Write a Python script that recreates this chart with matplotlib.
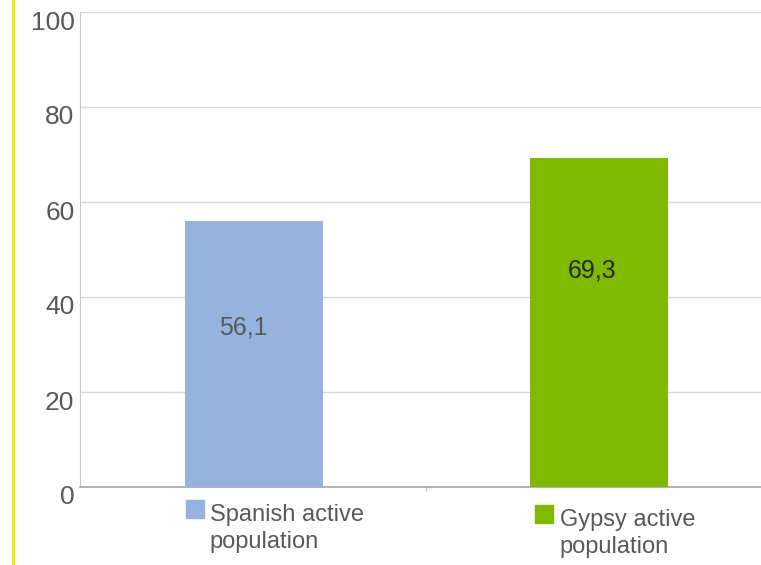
import matplotlib
matplotlib.use("Agg")
import matplotlib.pyplot as plt
from matplotlib.patches import Rectangle
from matplotlib.lines import Line2D
import matplotlib.transforms as mtransforms

categories = ["Spanish active\npopulation", "Gypsy active\npopulation"]
values = [56.1, 69.3]
value_labels = ["56,1", "69,3"]
bar_colors = ["#95b3de", "#7fba00"]
label_colors = ["#595959", "#262626"]
yticks = [0, 20, 40, 60, 80, 100]

plt.rcParams['font.family'] = ['Liberation Sans', 'DejaVu Sans']

fig = plt.figure(figsize=(7.61, 5.65), dpi=100)
ax = fig.add_axes([80/761, 1-487/565, 1-80/761, (487-12)/565])

x = list(range(len(values)))
ax.bar(x, values, width=0.4, color=bar_colors, zorder=3)
ax.set_xlim(-0.504, 1.47)
ax.set_ylim(0, 100)
ax.set_yticks(yticks)
ax.set_yticklabels([str(t) for t in yticks], fontsize=19, color="#595959")
ax.tick_params(axis='y', length=0, pad=4)
ax.set_xticks([0.5])
ax.set_xticklabels([""])
ax.tick_params(axis='x', length=3, color="#bfbfbf", width=1)
ax.grid(axis='y', color="#d9d9d9", linewidth=1, zorder=0)
for s in ['top', 'right']:
    ax.spines[s].set_visible(False)
ax.spines['left'].set_color("#c8c8c8")
ax.spines['bottom'].set_color("#a6a6a6")
ax.spines['bottom'].set_linewidth(1.2)

# shift y tick labels down a bit
offset = mtransforms.ScaledTranslation(0, -8/100, fig.dpi_scale_trans)
for lbl in ax.get_yticklabels():
    lbl.set_transform(lbl.get_transform() + offset)

# value labels inside bars
label_frac = [0.6, 0.657]
label_dx = [-0.03, -0.02]
for i, v in enumerate(values):
    ax.text(i + label_dx[i], v * label_frac[i], value_labels[i], ha='center', va='center',
            fontsize=18, color=label_colors[i], zorder=4)

# category labels with colored squares
sq_dx = [1, 5]
sq_dy = [13, 18]
txt_dx = [25, 30]
for i, cat in enumerate(categories):
    bx, by = ax.transData.transform((i - 0.2, 0))
    ax.add_patch(Rectangle((bx + sq_dx[i], by - sq_dy[i] - 18), 18, 18, color=bar_colors[i],
                           clip_on=False, transform=mtransforms.IdentityTransform()))
    ax.annotate(cat, xy=(i - 0.2, 0), xycoords=('data', 'axes fraction'),
                xytext=(txt_dx[i], -(sq_dy[i] + 4)), textcoords='offset pixels',
                ha='left', va='top', fontsize=17, color="#595959", linespacing=1.3,
                annotation_clip=False)

# yellow vertical line at left
fig.add_artist(Line2D([13/761, 13/761], [0, 1], color="#f2ec00", linewidth=2.2, transform=fig.transFigure))

fig.savefig("out.png", dpi=100)
